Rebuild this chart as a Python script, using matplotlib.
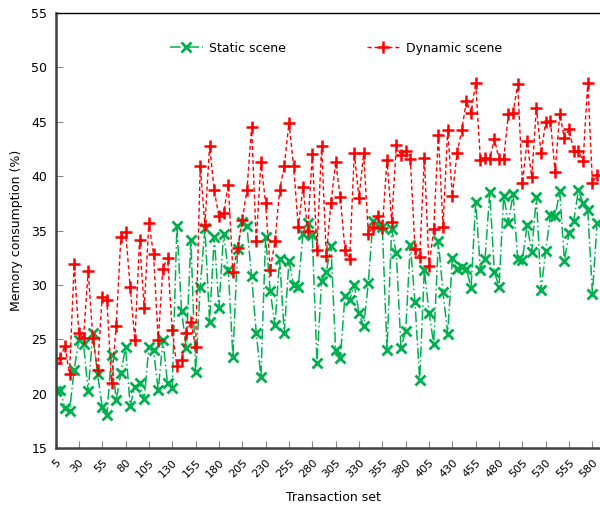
import matplotlib
matplotlib.use("Agg")
import matplotlib.pyplot as plt
import numpy as np

# transaction sets, every 5 from 5 up to the cropped right edge
transaction_set = list(range(5, 590, 5))

static_scene = [
    20.2, 20.3, 18.7, 18.4, 22.2, 24.9, 24.6, 20.2, 25.55, 21.8,
    18.8, 18.0, 23.55, 19.4, 21.9, 24.25, 18.9, 20.6, 20.95, 19.5,
    24.3, 24.0, 20.3, 24.9, 20.95, 20.5, 35.4, 27.6, 24.2, 34.1,
    22.0, 29.8, 35.2, 26.6, 34.4, 27.9, 34.7, 31.4, 23.4, 33.3,
    35.8, 35.4, 30.8, 25.6, 21.5, 34.4, 29.4, 26.3, 32.35, 25.55,
    32.2, 30.0, 29.8, 34.7, 35.65, 34.6, 22.85, 30.4, 31.2, 33.6,
    24.0, 23.25, 29.0, 28.6, 30.0, 27.4, 26.2, 30.2, 35.9, 35.5,
    35.3, 24.0, 35.1, 32.9, 24.2, 25.8, 33.7, 28.4, 21.25, 31.4,
    27.45, 24.6, 34.0, 29.3, 25.5, 32.45, 31.5, 31.65, 31.5, 29.7,
    37.65, 31.4, 32.35, 38.5, 31.2, 29.8, 38.2, 35.7, 38.4, 32.35,
    32.3, 35.5, 33.05, 38.1, 29.5, 33.15, 36.4, 36.3, 38.6, 32.2,
    34.8, 35.9, 38.7, 37.5, 36.9, 29.2, 35.7,
]

dynamic_scene = [
    22.8, 23.25, 24.4, 21.8, 31.9, 25.55, 25.1, 31.3, 25.1, 22.2,
    28.9, 28.6, 21.0, 26.2, 34.4, 34.9, 29.8, 24.9, 34.1, 27.9,
    35.7, 32.8, 24.9, 31.5, 32.5, 25.85, 22.5, 23.1, 25.55, 26.6,
    24.3, 40.9, 35.5, 42.8, 38.7, 36.3, 36.6, 39.2, 31.2, 33.4,
    36.0, 38.7, 44.5, 34.0, 41.3, 37.5, 31.4, 34.0, 38.7, 40.9,
    44.9, 40.9, 35.3, 39.0, 35.0, 42.0, 33.2, 42.8, 32.65, 37.55,
    41.3, 38.1, 33.2, 32.4, 42.1, 38.0, 42.1, 34.7, 35.35, 36.3,
    35.2, 41.5, 35.8, 42.85, 41.9, 42.3, 41.6, 33.3, 32.6, 41.7,
    31.7, 35.1, 43.8, 35.35, 44.2, 38.2, 42.1, 44.2, 46.9, 45.8,
    48.6, 41.5, 41.7, 41.6, 43.4, 41.6, 41.6, 45.7, 45.8, 48.5,
    39.35, 43.2, 39.9, 46.3, 42.1, 45.0, 45.1, 40.4, 45.7, 43.5,
    44.3, 42.3, 42.3, 41.4, 48.6, 39.4, 40.1,
]

xtick_labels = list(range(5, 581, 25))
ytick_labels = list(range(15, 56, 5))

GREEN = "#00b050"
RED = "#ff0000"

plt.rcParams["font.family"] = ["DejaVu Sans"]

fig = plt.figure(figsize=(6.0, 5.09), dpi=100)
# right edge lies past the canvas, as in the cropped original
ax = fig.add_axes([0.0925, 0.1198, 0.926, 0.8547])

ax.plot(transaction_set, static_scene, color=GREEN, linestyle=(0, (7, 2, 1, 2)),
        linewidth=1.1, marker="x", markersize=6.5, markeredgewidth=2.0,
        label="Static scene")
ax.plot(transaction_set, dynamic_scene, color=RED, linestyle=(0, (3, 2)),
        linewidth=1.0, marker="+", markersize=8, markeredgewidth=1.8,
        label="Dynamic scene")

ax.set_xlim(5, 600)
ax.set_ylim(15, 55)
ax.set_xticks(xtick_labels)
ax.set_xticklabels([str(v) for v in xtick_labels], rotation=45,
                   ha="right", rotation_mode="anchor", fontsize=8)
ax.set_yticks(ytick_labels)
ax.set_yticklabels([str(v) for v in ytick_labels], fontsize=9)
ax.tick_params(direction="in", length=5, color="#888888", pad=6)
ax.tick_params(axis="x", pad=7)

for side in ("left", "bottom"):
    ax.spines[side].set_linewidth(1.8)
    ax.spines[side].set_color("#404040")
ax.spines["top"].set_linewidth(1.0)
ax.spines["top"].set_color("black")
ax.spines["right"].set_visible(False)

ax.set_xlabel("Transaction set", fontsize=9, labelpad=8)
ax.set_ylabel("Memory consumption (%)", fontsize=9, labelpad=6)

fig.legend(loc="center", bbox_to_anchor=(0.56, 0.905), ncol=2, frameon=False,
           fontsize=9, columnspacing=6.5, handlelength=2.6, handletextpad=0.5)

fig.savefig("out.png", dpi=100)
plt.close(fig)
